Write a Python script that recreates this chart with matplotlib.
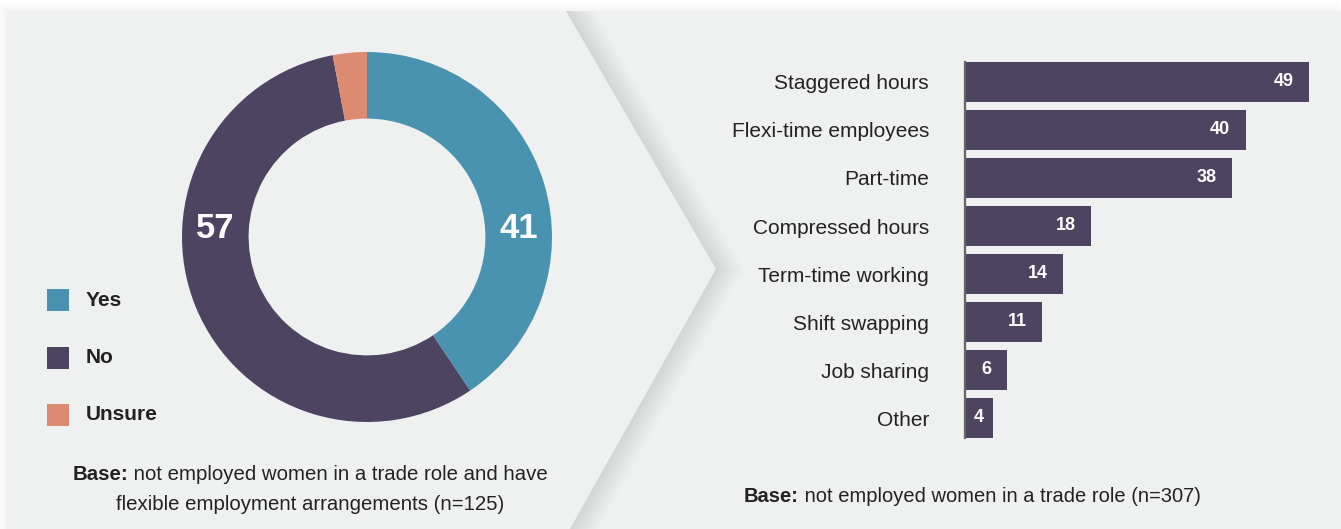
import matplotlib.pyplot as plt
from matplotlib.patches import Polygon, Rectangle

plt.rcParams['font.family'] = ['Liberation Sans', 'DejaVu Sans']

# donut: do women have flexible arrangements
donut_labels = ['Yes', 'No', 'Unsure']
donut_values = [41, 57, 3]
donut_colors = ['#4a93b0', '#4d4462', '#dc8a70']

# bars: type of flexible arrangement
bar_labels = ['Staggered hours', 'Flexi-time employees', 'Part-time', 'Compressed hours',
              'Term-time working', 'Shift swapping', 'Job sharing', 'Other']
bar_values = [49, 40, 38, 18, 14, 11, 6, 4]
bar_color = '#4d4462'

base_left = ['not employed women in a trade role and have',
             'flexible employment arrangements (n=125)']
base_right = 'not employed women in a trade role (n=307)'

W, H = 1341, 529
panel = '#eff1f0'
text_col = '#222222'

fig = plt.figure(figsize=(W / 100, H / 100), dpi=100)
fig.patch.set_facecolor('white')
renderer = fig.canvas.get_renderer()

# background panels drawn in pixel coordinates
bg = fig.add_axes([0, 0, 1, 1], zorder=-10)
bg.set_xlim(0, W)
bg.set_ylim(H, 0)
bg.axis('off')

for k in range(10, 0, -1):
    bg.add_patch(Rectangle((7 - k, 11 - k), W, H, facecolor='black', alpha=0.004, lw=0))
bg.add_patch(Rectangle((7, 11), W, H, facecolor=panel, lw=0))

chevron = [(7, 11), (566, 11), (716, 269), (570, 529), (7, 529)]
for k in range(28, 0, -1):
    shifted = [(x + k, y) for x, y in chevron]
    bg.add_patch(Polygon(shifted, closed=True, facecolor='black', alpha=0.0042, lw=0))
bg.add_patch(Polygon(chevron, closed=True, facecolor=panel, lw=0))

# legend for the donut
for i, (lab, col) in enumerate(zip(donut_labels, donut_colors)):
    yc = 300 + i * 57.5
    bg.add_patch(Rectangle((47, yc - 11), 22, 22, facecolor=col, lw=0))
    bg.text(86, yc, lab, fontsize=15, fontweight='bold', color=text_col,
            ha='left', va='center')


def centred_line(x, y, bold, rest, size):
    # bold lead-in followed by regular text, centred as one line
    t1 = bg.text(0, y, bold, fontsize=size, fontweight='bold', color=text_col,
                 ha='left', va='center')
    t2 = bg.text(0, y, rest, fontsize=size, color=text_col, ha='left', va='center')
    w1 = t1.get_window_extent(renderer).width if bold else 0
    w2 = t2.get_window_extent(renderer).width
    left = x - (w1 + w2) / 2
    t1.set_x(left)
    t2.set_x(left + w1)


centred_line(310, 475, 'Base:', ' ' + base_left[0], 14.7)
centred_line(310, 504, '', base_left[1], 14.7)
centred_line(972, 497, 'Base:', ' ' + base_right, 14.5)

# donut
cx, cy, r = 367, 237, 185
dax = fig.add_axes([(cx - r) / W, (H - cy - r) / H, 2 * r / W, 2 * r / H])
ring = 0.36
dax.pie(donut_values, colors=donut_colors, startangle=90, counterclock=False,
        radius=1, wedgeprops=dict(width=ring, linewidth=0))
dax.set_xlim(-1, 1)
dax.set_ylim(-1, 1)
dax.axis('off')
mid = 1 - ring / 2
dax.text(-mid, 0.045, str(donut_values[1]), color='white', fontsize=25,
         fontweight='bold', ha='center', va='center')
dax.text(mid, 0.045, str(donut_values[0]), color='white', fontsize=25,
         fontweight='bold', ha='center', va='center')

# horizontal bars
x0, px_per_unit = 965, 7.02
top, row = 58, 48
bar_h = 40 / 48
bw = 1330 - x0
bax = fig.add_axes([x0 / W, (H - top - row * len(bar_values)) / H,
                    bw / W, row * len(bar_values) / H])
bax.set_facecolor('none')
ypos = list(range(len(bar_values)))
bax.barh(ypos, bar_values, height=bar_h, color=bar_color, lw=0, zorder=2)
bax.set_xlim(0, bw / px_per_unit)
bax.set_ylim(len(bar_values) - 0.5, -0.5)
for s in ['top', 'right', 'bottom']:
    bax.spines[s].set_visible(False)
bax.spines['left'].set_color('#666666')
bax.spines['left'].set_linewidth(1.6)
bax.spines['left'].set_zorder(3)
bax.spines['left'].set_bounds(-bar_h / 2, len(bar_values) - 1 + bar_h / 2)
bax.set_xticks([])
bax.set_yticks(ypos)
bax.set_yticklabels(bar_labels, fontsize=15, color=text_col)
bax.tick_params(axis='y', length=0, pad=26)

for y, v in zip(ypos, bar_values):
    if v >= 10:
        bax.text(v - 2.2, y, str(v), color='white', fontsize=13, fontweight='bold',
                 ha='right', va='center', zorder=4)
    else:
        bax.text(v / 2, y, str(v), color='white', fontsize=13, fontweight='bold',
                 ha='center', va='center', zorder=4)

fig.savefig('out.png', dpi=100, facecolor=fig.get_facecolor())
